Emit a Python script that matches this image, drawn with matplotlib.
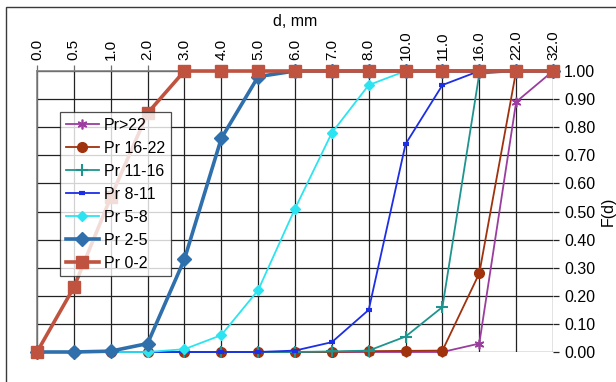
import matplotlib
matplotlib.use("Agg")
import matplotlib.pyplot as plt
from matplotlib.patches import Rectangle

plt.rcParams["font.family"] = ["Liberation Sans", "DejaVu Sans"]

# category axis (sieve sizes, mm)
sizes = ["0.0", "0.5", "1.0", "2.0", "3.0", "4.0", "5.0", "6.0", "7.0",
         "8.0", "10.0", "11.0", "16.0", "22.0", "32.0"]

# cumulative fractions per product
pr_gt22 = [0, 0, 0, 0, 0, 0, 0, 0, 0, 0, 0, 0, 0.03, 0.89, 1.0]
pr_16_22 = [0, 0, 0, 0, 0, 0, 0, 0, 0, 0.003, 0.004, 0.005, 0.28, 1.0, 1.0]
pr_11_16 = [0, 0, 0, 0, 0, 0, 0, 0, 0.002, 0.005, 0.055, 0.16, 0.99, 1.0, 1.0]
pr_8_11 = [0, 0, 0, 0, 0, 0, 0, 0.005, 0.035, 0.15, 0.74, 0.95, 1.0, 1.0, 1.0]
pr_5_8 = [0, 0, 0, 0, 0.01, 0.06, 0.22, 0.51, 0.78, 0.95, 1.0, 1.0, 1.0, 1.0, 1.0]
pr_2_5 = [0, 0, 0.003, 0.03, 0.33, 0.76, 0.98, 1.0, 1.0, 1.0, 1.0, 1.0, 1.0, 1.0, 1.0]
pr_0_2 = [0, 0.23, 0.55, 0.85, 1.0, 1.0, 1.0, 1.0, 1.0, 1.0, 1.0, 1.0, 1.0, 1.0, 1.0]

yticks = [0.0, 0.1, 0.2, 0.3, 0.4, 0.5, 0.6, 0.7, 0.8, 0.9, 1.0]

W, H = 616, 382
fig = plt.figure(figsize=(W / 100, H / 100), dpi=100)
fig.patch.set_facecolor("white")

# outer chart frame (runs off the image on the right / bottom)
fig.patches.append(Rectangle((6 / W, -0.2), 2.0, 1.2 - 7 / H,
                             transform=fig.transFigure, fill=False,
                             edgecolor="#3a3a3a", linewidth=1.0, zorder=0))

ax = fig.add_axes([37 / W, 1 - 352 / H, (553 - 37) / W, (352 - 71) / H])
x = list(range(len(sizes)))

series = [
    ("Pr>22", pr_gt22, dict(color="#9B3D9E", marker=(6, 2, 0), ms=7, lw=1.3, mew=1.2)),
    ("Pr 16-22", pr_16_22, dict(color="#A0320E", marker="o", ms=7, lw=1.3)),
    ("Pr 11-16", pr_11_16, dict(color="#1F948F", marker="+", ms=8, lw=1.3, mew=1.5)),
    ("Pr 8-11", pr_8_11, dict(color="#1C2EE6", marker="_", ms=5, lw=1.3, mew=3)),
    ("Pr 5-8", pr_5_8, dict(color="#2BE4F2", marker="D", ms=5.5, lw=1.3)),
    ("Pr 2-5", pr_2_5, dict(color="#2E6FAC", marker="D", ms=7, lw=2.6)),
    ("Pr 0-2", pr_0_2, dict(color="#C0533F", marker="s", ms=8, lw=2.6)),
]
for i, (name, vals, st) in enumerate(series):
    ax.plot(x, vals, label=name, clip_on=False, zorder=3 + i, **st)

ax.set_xlim(0, len(sizes) - 1)
ax.set_ylim(0, 1)
ax.set_xticks(x)
ax.set_xticklabels(sizes, rotation=90, fontsize=11)
ax.set_yticks(yticks)
ax.set_yticklabels([f"{v:.2f}" for v in yticks], fontsize=11.5)
ax.xaxis.tick_top()
ax.yaxis.tick_right()
ax.tick_params(axis="x", length=4, width=0.9, color="#707070", pad=4)
ax.tick_params(axis="y", length=4, width=0.9, color="#222222", pad=4)
ax.grid(True, color="#222222", linewidth=0.9)
ax.set_axisbelow(True)
for side in ("bottom", "right"):
    ax.spines[side].set_visible(False)
for side in ("top", "left"):
    ax.spines[side].set_color("#808080")
    ax.spines[side].set_linewidth(1.2)

fig.text(295 / W, 1 - 21 / H, "d, mm", ha="center", va="center", fontsize=11.5)
fig.text(601 / W, 1 - 211 / H, "F(d)", rotation=90, ha="left", va="center",
         fontsize=11.5)

leg = ax.legend(loc="upper left", bbox_to_anchor=(60 / W, 1 - 112 / H),
                bbox_transform=fig.transFigure, borderaxespad=0,
                fontsize=11.5, frameon=True, fancybox=False,
                handlelength=2.1, handletextpad=0.3, labelspacing=0.5,
                borderpad=0.35)
leg.get_frame().set_edgecolor("#222222")
leg.get_frame().set_linewidth(0.9)
leg.set_zorder(20)

fig.savefig("out.png", dpi=100)
